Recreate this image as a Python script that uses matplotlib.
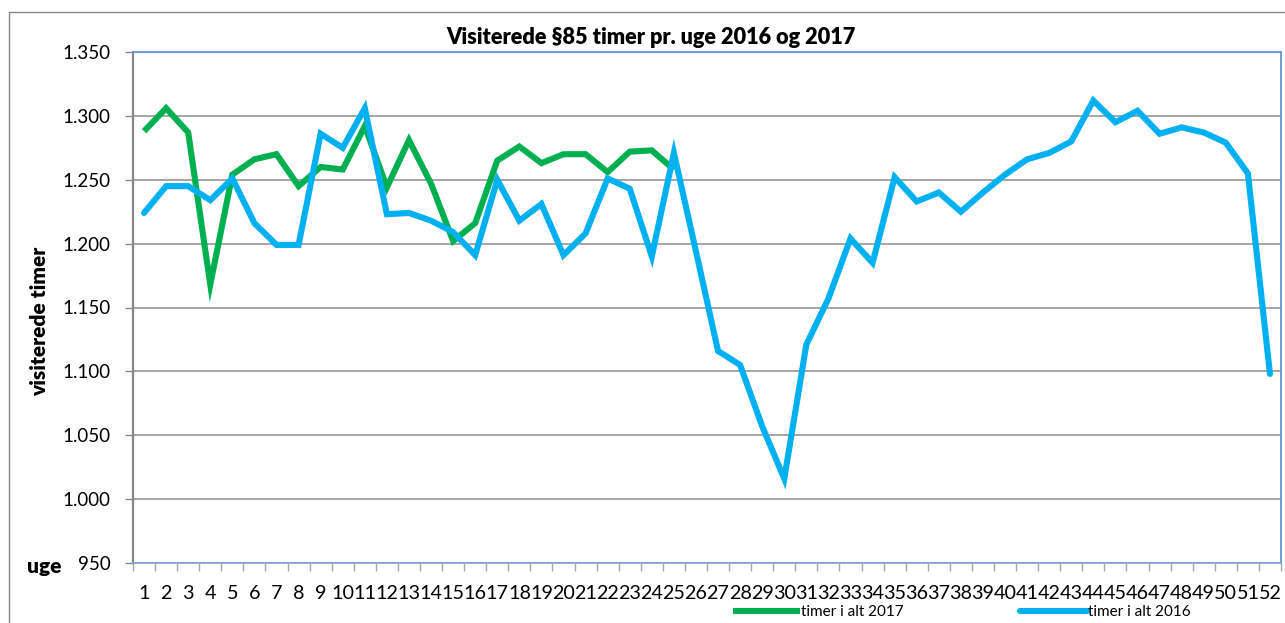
import matplotlib
matplotlib.use("Agg")
import matplotlib.pyplot as plt
from matplotlib.patches import Rectangle
from matplotlib.ticker import FuncFormatter, FixedLocator

plt.rcParams['font.family'] = ['Lato', 'DejaVu Sans']

weeks = list(range(1, 53))
week_labels = [str(w) for w in weeks]

timer_2017 = [1288, 1306, 1287, 1168, 1254, 1266, 1270, 1245, 1260, 1258,
              1292, 1244, 1281, 1247, 1202, 1216, 1265, 1276, 1263, 1270,
              1270, 1256, 1272, 1273, 1258]

timer_2016 = [1224, 1245, 1245, 1234, 1251, 1216, 1199, 1199, 1286, 1275,
              1306, 1223, 1224, 1218, 1209, 1191, 1250, 1218, 1231, 1191,
              1208, 1251, 1243, 1190, 1271, 1194, 1116, 1105, 1057, 1016,
              1121, 1157, 1204, 1185, 1252, 1233, 1240, 1225, 1240, 1254,
              1266, 1271, 1280, 1312, 1295, 1304, 1286, 1291, 1287, 1279,
              1255, 1098]

y_ticks = [950, 1000, 1050, 1100, 1150, 1200, 1250, 1300, 1350]

W, H = 1285, 623
fig = plt.figure(figsize=(W / 100, H / 100), dpi=100)

# outer chart-area border
fig.patches.append(Rectangle((9 / W, -0.1), 1.2, 1 - 12 / H + 0.1,
                             transform=fig.transFigure, fill=False,
                             edgecolor='#868686', linewidth=1.0))

left, right, top, bottom = 133, 1281, 52, 563
ax = fig.add_axes([left / W, 1 - bottom / H, (right - left) / W, (bottom - top) / H])

ax.plot(weeks, timer_2016, color='#00B0F0', linewidth=4.4,
        solid_joinstyle='miter', solid_capstyle='round', label='timer i alt 2016', zorder=3)
ax.plot(weeks[:len(timer_2017)], timer_2017, color='#00B050', linewidth=4.4,
        solid_joinstyle='miter', solid_capstyle='butt', label='timer i alt 2017', zorder=2)

ax.set_xlim(0.5, 52.5)
ax.set_ylim(950, 1350)
ax.set_yticks(y_ticks)
ax.yaxis.set_major_formatter(FuncFormatter(lambda v, p: f"{int(v):,}".replace(',', '.')))
ax.grid(axis='y', color='#A6A6A6', linewidth=1.4, zorder=0)
ax.set_axisbelow(True)

ax.set_xticks(weeks)
ax.set_xticklabels(week_labels)
ax.xaxis.set_minor_locator(FixedLocator([w + 0.5 for w in range(0, 53)]))
ax.tick_params(axis='x', which='major', length=0, pad=16, labelsize=14.2)
ax.tick_params(axis='x', which='minor', length=6, width=1, color='#A6A6A6', direction='out')
ax.tick_params(axis='y', which='major', length=6, width=1, color='#868686',
               direction='out', pad=10, labelsize=13.5)

for s in ['top', 'right']:
    ax.spines[s].set_color('#5B9BD5')
    ax.spines[s].set_linewidth(1.3)
ax.spines['bottom'].set_color('#7FA7D6')
ax.spines['bottom'].set_linewidth(1.3)
ax.spines['left'].set_color('#868686')
ax.spines['left'].set_linewidth(1.6)

fig.text(651 / W, 1 - 37 / H, 'Visiterede §85 timer pr. uge 2016 og 2017',
         ha='center', va='center', fontsize=15.6, fontweight='heavy')
fig.text(40 / W, 1 - 321 / H, 'visiterede timer', rotation=90,
         ha='center', va='center', fontsize=15, fontweight='heavy')
fig.text(44 / W, 1 - 567 / H, 'uge', ha='center', va='center',
         fontsize=15, fontweight='heavy')

h2016, h2017 = ax.get_legend_handles_labels()[0]
fig.legend([h2017, h2016], ['timer i alt 2017', 'timer i alt 2016'],
           loc='center left', bbox_to_anchor=(733 / W, 1 - 612 / H), ncol=2,
           frameon=False, fontsize=11, handlelength=4.4, handletextpad=0.05,
           columnspacing=7.6, borderaxespad=0, borderpad=0)

fig.savefig('out.png', dpi=100)
